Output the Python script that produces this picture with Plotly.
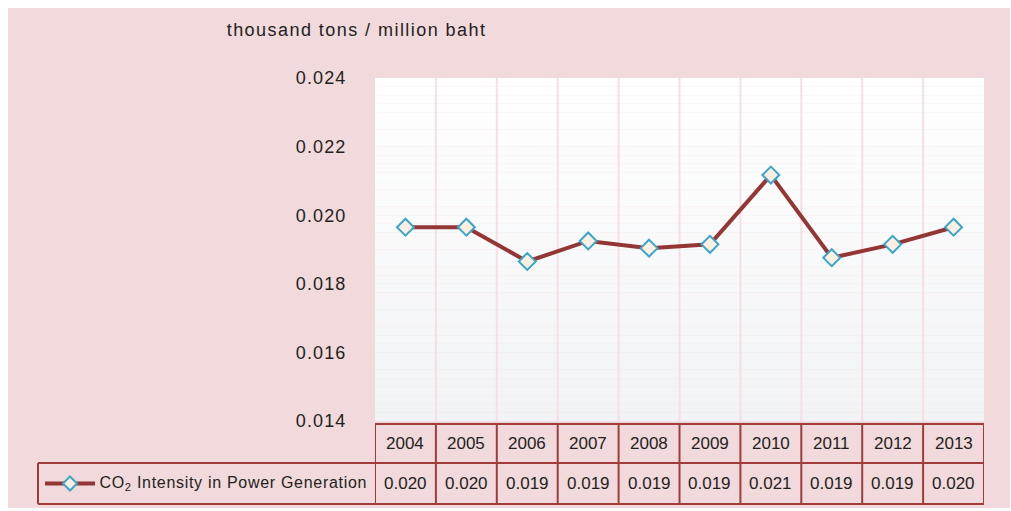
import plotly.graph_objects as go

# CO2 intensity of power generation (thousand tons / million baht)
years = ["2004", "2005", "2006", "2007", "2008", "2009", "2010", "2011", "2012", "2013"]
intensity = [0.01965, 0.01965, 0.01865, 0.01925, 0.01904, 0.01915, 0.02117, 0.01876, 0.01915, 0.01965]
series_name = "CO<sub>2</sub> Intensity in Power Generation"
unit_label = "thousand tons / million baht"
y_ticks = [0.014, 0.016, 0.018, 0.020, 0.022, 0.024]

W, H = 1011, 511
PL, PR, PT, PB = 375, 984, 78, 421  # plot area edges in pixels

PINK = "#f1d9dc"
DARK_RED = "#943634"
BORDER = "#a03c3c"
TEXT = "#231f20"
FONT = "Liberation Sans, Arial, sans-serif"


def fx(p):
    """pixel x -> paper x"""
    return (p - PL) / (PR - PL)


def fy(p):
    """pixel y -> paper y"""
    return (PB - p) / (PB - PT)


n = len(years)
xs = list(range(n))

fig = go.Figure()
fig.add_trace(go.Scatter(
    x=xs, y=intensity, mode="lines+markers",
    line=dict(color=DARK_RED, width=4),
    marker=dict(symbol="diamond", size=13, color="#fcefe2",
                line=dict(color="#3aa6c9", width=2)),
    showlegend=False, hoverinfo="skip",
))

shapes = []
# pink page background
shapes.append(dict(type="rect", xref="paper", yref="paper", layer="below",
                   x0=fx(8), x1=fx(1010), y0=fy(508), y1=fy(8),
                   fillcolor=PINK, line=dict(width=0)))
# plot area: soft white-to-grey vertical gradient
bands = 40
top_rgb, bot_rgb = (255, 255, 255), (242, 243, 245)
for i in range(bands):
    t = (i + 0.5) / bands
    c = tuple(round(top_rgb[k] + (bot_rgb[k] - top_rgb[k]) * t) for k in range(3))
    shapes.append(dict(type="rect", xref="paper", yref="paper", layer="below",
                       x0=0, x1=1, y0=1 - (i + 1) / bands, y1=1 - i / bands,
                       fillcolor="rgb(%d,%d,%d)" % c, line=dict(width=0)))
# vertical grid lines between categories
for i in range(n - 1):
    shapes.append(dict(type="line", xref="x", yref="paper", layer="below",
                       x0=i + 0.5, x1=i + 0.5, y0=0, y1=1,
                       line=dict(color="#f4e0e3", width=2)))

# data table under the plot
row_top, row_mid, row_bot = 424, 463, 504
for i in range(n + 1):
    shapes.append(dict(type="line", xref="x", yref="paper",
                       x0=i - 0.5, x1=i - 0.5, y0=fy(row_top), y1=fy(row_bot),
                       line=dict(color=BORDER, width=2)))
shapes.append(dict(type="line", xref="paper", yref="paper",
                   x0=0, x1=1, y0=fy(row_top), y1=fy(row_top),
                   line=dict(color=BORDER, width=2)))
for yy in (row_mid, row_bot):
    shapes.append(dict(type="line", xref="paper", yref="paper",
                       x0=fx(38), x1=1, y0=fy(yy), y1=fy(yy),
                       line=dict(color=BORDER, width=2)))
shapes.append(dict(type="line", xref="paper", yref="paper",
                   x0=fx(38), x1=fx(38), y0=fy(row_mid), y1=fy(row_bot),
                   line=dict(color=BORDER, width=2)))

# legend key inside the table
key_y = (row_mid + row_bot) / 2
shapes.append(dict(type="line", xref="paper", yref="paper",
                   x0=fx(45), x1=fx(95), y0=fy(key_y), y1=fy(key_y),
                   line=dict(color=DARK_RED, width=4)))
cx, r = 70, 7
diamond = "M %f %f L %f %f L %f %f L %f %f Z" % (
    fx(cx), fy(key_y - r), fx(cx + r), fy(key_y), fx(cx), fy(key_y + r), fx(cx - r), fy(key_y))
shapes.append(dict(type="path", xref="paper", yref="paper", path=diamond,
                   fillcolor="#fcefe2", line=dict(color="#3aa6c9", width=2)))

annotations = []
for i, (yr, v) in enumerate(zip(years, intensity)):
    annotations.append(dict(x=i, y=fy((row_top + row_mid) / 2), xref="x", yref="paper",
                            text=yr, showarrow=False, xanchor="center", yanchor="middle",
                            font=dict(size=17, color=TEXT, family=FONT)))
    annotations.append(dict(x=i, y=fy(key_y), xref="x", yref="paper",
                            text="%.3f" % v, showarrow=False, xanchor="center", yanchor="middle",
                            font=dict(size=17, color=TEXT, family=FONT)))
legend_idx = len(annotations)
annotations.append(dict(x=fx(109), y=fy(key_y), xref="paper", yref="paper",
                        text=series_name, showarrow=False, xanchor="left", yanchor="middle",
                        font=dict(size=16, color=TEXT, family=FONT)))
title_idx = len(annotations)
annotations.append(dict(x=fx(356), y=fy(30), xref="paper", yref="paper",
                        text=unit_label, showarrow=False, xanchor="center", yanchor="middle",
                        font=dict(size=18, color=TEXT, family=FONT)))

fig.update_layout(
    width=W, height=H,
    margin=dict(l=PL, r=W - PR, t=PT, b=H - PB, pad=0),
    paper_bgcolor="white", plot_bgcolor="rgba(0,0,0,0)",
    shapes=shapes, annotations=annotations,
    xaxis=dict(range=[-0.5, n - 0.5], showgrid=False, showticklabels=False,
               zeroline=False, showline=False, fixedrange=True),
    yaxis=dict(range=[0.014, 0.024], tickvals=y_ticks, tickformat=".3f",
               showgrid=False, zeroline=False, showline=False,
               ticks="outside", ticklen=24, tickcolor="rgba(0,0,0,0)",
               tickfont=dict(size=18, color=TEXT, family=FONT), fixedrange=True),
    showlegend=False,
)

# slightly tracked lettering for the axis labels, key text and unit caption
css = (
    ".ytick text{letter-spacing:1.1px}"
    '.annotation[data-index="%d"] text{letter-spacing:0.7px}'
    '.annotation[data-index="%d"] text{letter-spacing:1.45px}'
) % (legend_idx, title_idx)
post = "var s=document.createElement('style');s.textContent='%s';document.head.appendChild(s);" % css.replace("'", "\\'")

fig.write_html("out.html", config={"displayModeBar": False}, post_script=post)
